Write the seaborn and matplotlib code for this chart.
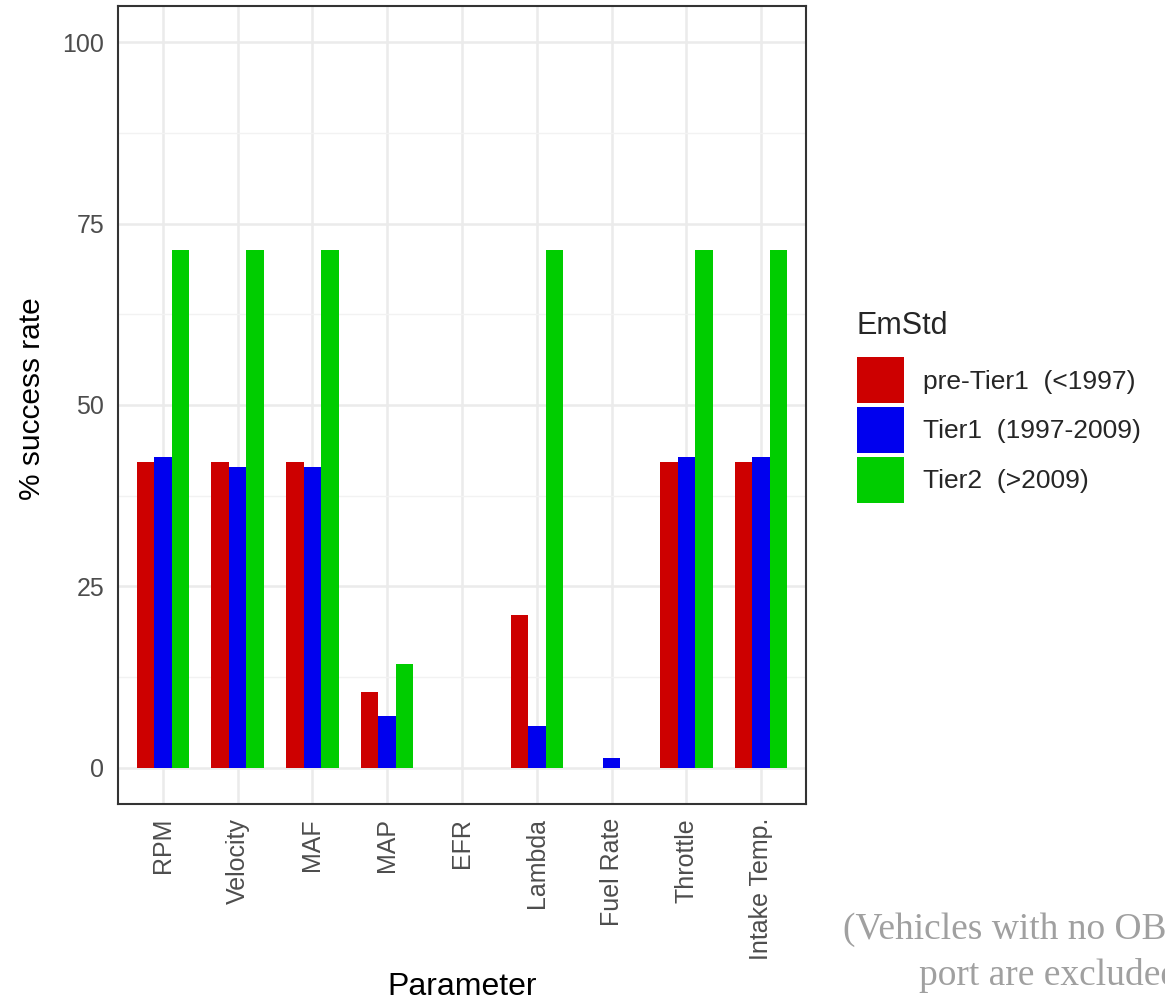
import matplotlib
matplotlib.use("Agg")
import matplotlib.pyplot as plt
import numpy as np
import pandas as pd
import seaborn as sns

# values (% success rate)
parameters = ["RPM", "Velocity", "MAF", "MAP", "EFR", "Lambda", "Fuel Rate", "Throttle", "Intake Temp."]
pre_tier1 = [42.1, 42.1, 42.1, 10.5, 0.0, 21.1, 0.0, 42.1, 42.1]
tier1 = [42.9, 41.4, 41.4, 7.1, 0.0, 5.7, 1.4, 42.9, 42.9]
tier2 = [71.4, 71.4, 71.4, 14.3, 0.0, 71.4, 0.0, 71.4, 71.4]
groups = ["pre-Tier1  (<1997)", "Tier1  (1997-2009)", "Tier2  (>2009)"]
group_colors = ["#CD0000", "#0000EE", "#00CD00"]

df = pd.DataFrame({
    "Parameter": parameters * 3,
    "EmStd": [groups[0]] * 9 + [groups[1]] * 9 + [groups[2]] * 9,
    "rate": pre_tier1 + tier1 + tier2,
})

sns.set_style("white")
plt.rcParams["font.family"] = ["Liberation Sans", "DejaVu Sans"]

fig = plt.figure(figsize=(11.65, 10.01), dpi=100)
ax = fig.add_axes([118 / 1165, 197 / 1001, 688 / 1165, 798 / 1001])

sns.barplot(data=df, x="Parameter", y="rate", hue="EmStd", order=parameters,
            hue_order=groups, palette=group_colors, width=0.7, saturation=1,
            linewidth=0, ax=ax, legend=True)

ax.set_xlim(-0.6, len(parameters) - 0.4)
ax.set_ylim(-5, 105)
ax.set_yticks([0, 25, 50, 75, 100])
ax.set_yticks([12.5, 37.5, 62.5, 87.5], minor=True)
ax.set_axisbelow(True)
ax.grid(True, which="major", color="#EBEBEB", linewidth=1.8)
ax.grid(True, axis="y", which="minor", color="#F2F2F2", linewidth=1.0)
for s in ax.spines.values():
    s.set_color("#333333")
    s.set_linewidth(1.5)

ax.tick_params(axis="both", which="major", direction="out", length=6, width=1.5,
               color="#333333", labelcolor="#4D4D4D", labelsize=18, pad=4)
ax.tick_params(axis="y", which="minor", length=0)
ax.tick_params(axis="x", labelrotation=90)

ax.set_xlabel("Parameter", fontsize=23, color="black")
ax.set_ylabel("% success rate", fontsize=21.5, color="black")
ax.xaxis.set_label_coords(0.5, -(972 - 804) / 798)
ax.yaxis.set_label_coords(-(118 - 46) / 688, 0.5 + 6 / 798)

handles, labels = ax.get_legend_handles_labels()
ax.get_legend().remove()
leg = fig.legend(handles, labels, title="EmStd", loc="upper left",
                 bbox_to_anchor=(833 / 1165, 1 - 287 / 1001), frameon=False,
                 fontsize=19, title_fontsize=22, handlelength=1.78, handleheight=2.3,
                 handletextpad=0.72, labelspacing=0.15, alignment="left")
leg._legend_box.sep = 12

fig.text(843 / 1165, 1 - 930 / 1001, "(Vehicles with no OBD", family="Liberation Serif",
         fontsize=27, color="#A0A0A0", va="center", ha="left")
fig.text(919 / 1165, 1 - 975 / 1001, "port are excluded)", family="Liberation Serif",
         fontsize=27, color="#A0A0A0", va="center", ha="left")

fig.savefig("out.png", dpi=100)
